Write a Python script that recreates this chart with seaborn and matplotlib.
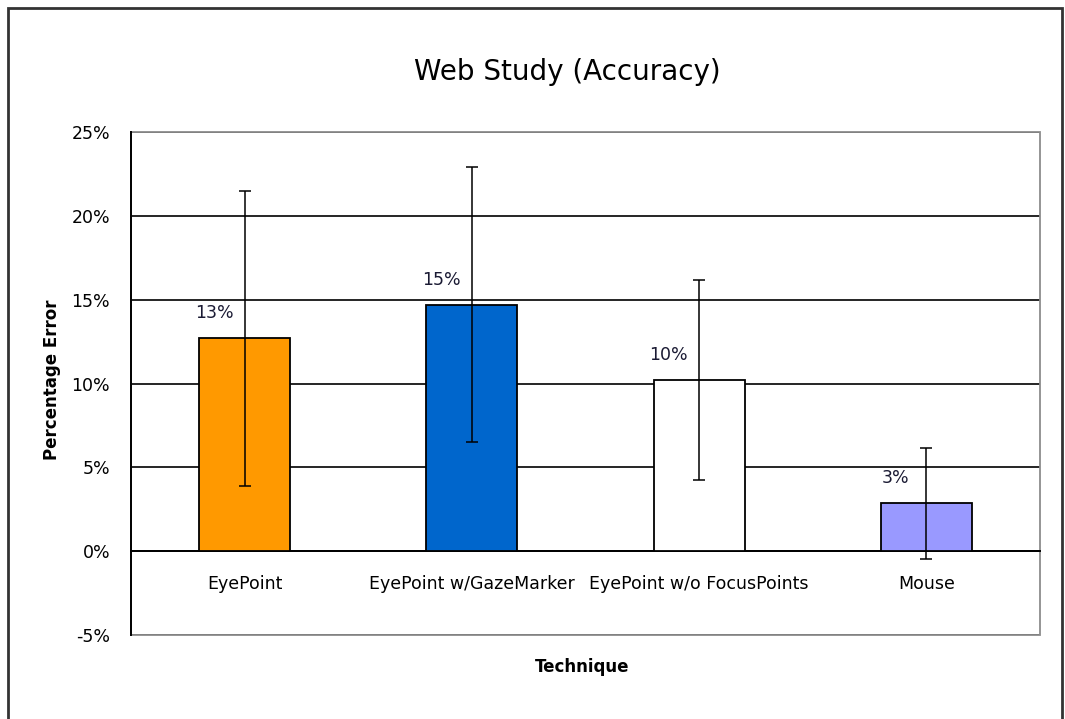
import numpy as np
import pandas as pd
import matplotlib
matplotlib.use("Agg")
import matplotlib.pyplot as plt
import matplotlib.ticker as mticker
from matplotlib.patches import Rectangle
import seaborn as sns

techniques = ["EyePoint", "EyePoint w/GazeMarker", "EyePoint w/o FocusPoints", "Mouse"]
error_pct = [12.7, 14.7, 10.2, 2.85]
error_ci = [8.8, 8.2, 5.95, 3.3]
bar_colors = ["#FF9900", "#0066CC", "#FFFFFF", "#9999FF"]
y_ticks = [-5, 0, 5, 10, 15, 20, 25]


def build_frame():
    return pd.DataFrame({"technique": techniques, "error": error_pct})


def draw_chart(df):
    fig = plt.figure(figsize=(10.65, 7.19), dpi=100)
    ax = fig.add_axes([0.123, 0.1168, 0.8535, 0.6996])

    sns.barplot(data=df, x="technique", y="error", hue="technique",
                palette=bar_colors, saturation=1, width=0.4,
                edgecolor="black", linewidth=1.3, legend=False, ax=ax,
                zorder=3)

    # error bars from the summary values
    ax.errorbar(x=np.arange(len(techniques)), y=error_pct, yerr=error_ci,
                fmt="none", ecolor="black", elinewidth=1.1, capsize=4.5,
                capthick=1.1, zorder=4)

    for i, v in enumerate(error_pct):
        ax.annotate(f"{v:.0f}%", (i, v), xytext=(-22, 18),
                    textcoords="offset points", ha="center", va="center",
                    fontsize=12.5, color="#1a1a33")

    ax.set_xlim(-0.5, len(techniques) - 0.5)
    ax.set_ylim(-5, 25)
    ax.set_yticks(y_ticks)
    ax.yaxis.set_major_formatter(mticker.FormatStrFormatter("%d%%"))
    ax.grid(axis="y", color="black", linewidth=1.2)
    ax.set_axisbelow(True)

    ax.set_xticks(range(len(techniques)), labels=techniques)
    ax.set_xticks([0.5, 1.5, 2.5], minor=True)
    ax.tick_params(axis="x", which="major", length=0, pad=17, labelsize=12.5,
                   labelcolor="black")
    ax.tick_params(axis="x", which="minor", length=4, width=1,
                   direction="out", color="black")
    ax.tick_params(axis="y", length=6, width=1.2, pad=9, labelsize=12.5,
                   color="black", labelcolor="black")

    ax.spines["top"].set_visible(False)
    ax.spines["right"].set_visible(False)
    ax.spines["bottom"].set_position(("data", 0))
    for side in ["bottom", "left"]:
        ax.spines[side].set_linewidth(1.4)
        ax.spines[side].set_color("black")
    ax.add_patch(Rectangle((0, 0), 1, 1, transform=ax.transAxes, fill=False,
                           edgecolor="#8c8c8c", linewidth=1.3, clip_on=False,
                           zorder=1))
    ax.set_xlabel("")
    ax.set_ylabel("")

    fig.text(0.533, 0.9, "Web Study (Accuracy)", ha="center", va="center",
             fontsize=20, color="black")
    fig.text(0.049, 0.4715, "Percentage Error", rotation=90, ha="center",
             va="center", fontsize=12, fontweight="bold", color="black")
    fig.text(0.5465, 0.0723, "Technique", ha="center", va="center",
             fontsize=12, fontweight="bold", color="black")

    # outer chart border
    fig.patches.append(Rectangle((0.0075, -0.02), 0.9895, 1.009,
                                 transform=fig.transFigure, fill=False,
                                 edgecolor="#333333", linewidth=2))
    return fig


sns.set_theme(style="white")
plt.rcParams["font.family"] = ["DejaVu Sans"]
plt.rcParams["text.color"] = "black"

fig = draw_chart(build_frame())
fig.savefig("out.png", dpi=100)
